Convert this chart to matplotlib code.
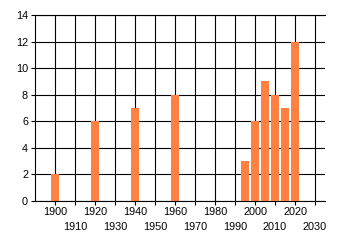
import matplotlib
matplotlib.use("Agg")
import matplotlib.pyplot as plt

years = [1900, 1920, 1940, 1960, 1995, 2000, 2005, 2010, 2015, 2020]
counts = [2, 6, 7, 8, 3, 6, 9, 8, 7, 12]
major_labels = [1900, 1920, 1940, 1960, 1980, 2000, 2020]
minor_labels = [1910, 1930, 1950, 1970, 1990, 2010, 2030]
y_ticks = [0, 2, 4, 6, 8, 10, 12, 14]

plt.rcParams['font.family'] = ['Liberation Sans', 'DejaVu Sans']

W, H = 340, 245
fig = plt.figure(figsize=(W / 100, H / 100), dpi=100)
left, right, top, bottom = 35, 325, 15, 201
ax = fig.add_axes([left / W, 1 - bottom / H, (right - left) / W, (bottom - top) / H])

ax.bar(years, counts, width=4, color='#FF8040', zorder=3)
ax.set_xlim(1890, 2035)
ax.set_ylim(0, 14)
ax.set_yticks(y_ticks)
ax.set_xticks(major_labels)
ax.set_xticks(minor_labels, minor=True)
ax.set_xticklabels([str(v) for v in major_labels])
ax.set_xticklabels([str(v) for v in minor_labels], minor=True)

ax.grid(True, which='both', color='black', linewidth=0.8, zorder=0)
ax.set_axisbelow(True)
ax.spines['right'].set_visible(False)
for s in ['left', 'bottom', 'top']:
    ax.spines[s].set_linewidth(0.8)

fs = 7.8
ax.tick_params(axis='x', which='major', length=3, width=0.8, pad=1.3, labelsize=fs, colors='black')
ax.tick_params(axis='x', which='minor', length=3, width=0.8, pad=12.0, labelsize=fs, colors='black')
ax.tick_params(axis='y', length=3, width=0.8, pad=2, labelsize=fs, colors='black')

fig.savefig('out.png', dpi=100)
